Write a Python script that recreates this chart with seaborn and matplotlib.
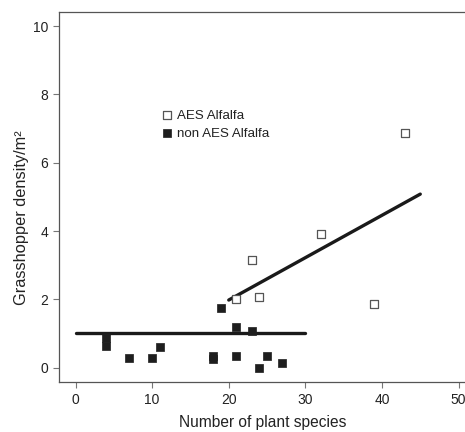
import numpy as np
import pandas as pd
import matplotlib
matplotlib.use("Agg")
import matplotlib.pyplot as plt
import seaborn as sns

# datos
aes_species = [21, 23, 24, 32, 39, 43]
aes_density = [2.0, 3.14, 2.07, 3.92, 1.87, 6.86]

non_species = [4, 4, 7, 10, 11, 18, 18, 19, 21, 21, 23, 24, 25, 27]
non_density = [0.87, 0.64, 0.27, 0.27, 0.61, 0.35, 0.25, 1.74, 1.2, 0.34, 1.07, 0.0, 0.34, 0.14]

# lineas de ajuste
aes_fit_x = [20, 45]
aes_fit_y = [1.98, 5.08]
non_fit_x = [0, 30]
non_fit_y = [1.01, 1.01]

x_ticks = [0, 10, 20, 30, 40, 50]
y_ticks = [0, 2, 4, 6, 8, 10]

sns.set_style("white")
plt.rcParams["font.family"] = ["Liberation Sans", "DejaVu Sans"]

fig = plt.figure(figsize=(4.65, 4.32), dpi=100)
ax = fig.add_axes([59 / 465, 1 - 381.7 / 432, 408 / 465, (381.7 - 12) / 432])

df_aes = pd.DataFrame({"x": aes_species, "y": aes_density})
df_non = pd.DataFrame({"x": non_species, "y": non_density})

sns.lineplot(x=non_fit_x, y=non_fit_y, color="#1a1a1a", linewidth=2.4, ax=ax)
sns.lineplot(x=aes_fit_x, y=aes_fit_y, color="#1a1a1a", linewidth=2.4, ax=ax)

sns.scatterplot(data=df_aes, x="x", y="y", marker="s", s=30, facecolor="white",
                edgecolor="#555555", linewidth=0.9, label="AES Alfalfa", ax=ax, zorder=3)
sns.scatterplot(data=df_non, x="x", y="y", marker="s", s=30, color="#1e1e1e",
                edgecolor="#1e1e1e", linewidth=0.5, label="non AES Alfalfa", ax=ax, zorder=3)

ax.set_xlim(-2.16, 51.1)
ax.set_ylim(-0.41, 10.41)
ax.set_xticks(x_ticks)
ax.set_yticks(y_ticks)

for s in ["left", "bottom", "top"]:
    ax.spines[s].set_color("#555555")
    ax.spines[s].set_linewidth(0.9)
ax.spines["right"].set_visible(False)

ax.tick_params(axis="both", direction="out", length=4, width=0.8, color="#777777",
               labelsize=10, labelcolor="#222222", pad=4, left=True, bottom=True)

ax.set_xlabel("Number of plant species", fontsize=11.2, color="#222222", labelpad=6)
ax.set_ylabel("Grasshopper density/m²", fontsize=11.8, color="#222222", labelpad=1)
ax.yaxis.set_label_coords(-0.074, 0.445)

leg = ax.legend(loc="upper left", bbox_to_anchor=(0.232, 0.755), frameon=False,
                fontsize=9.6, handletextpad=0.25, labelspacing=0.45, markerscale=1.15,
                borderpad=0, handlelength=1.0)
for t in leg.get_texts():
    t.set_color("#222222")

fig.savefig("out.png", dpi=100)
